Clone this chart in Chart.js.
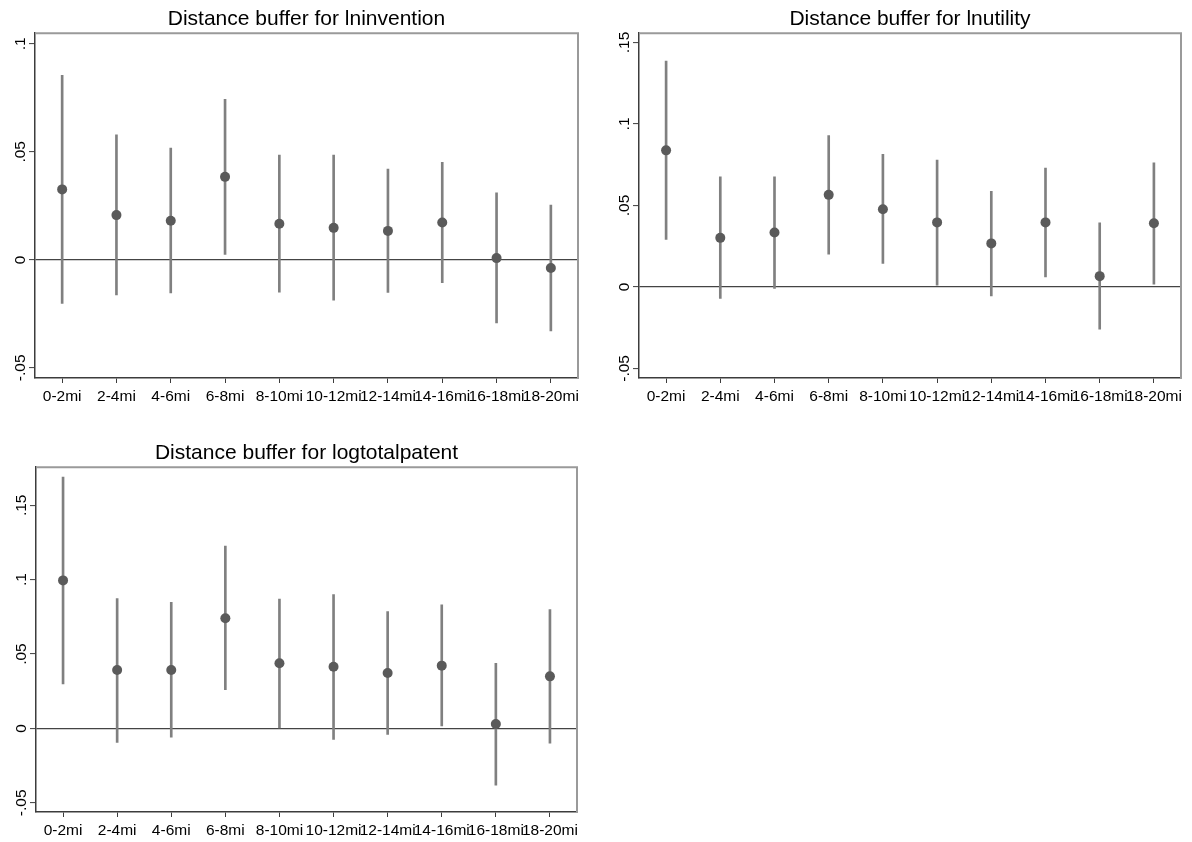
<!DOCTYPE html>
<html>
<head>
<meta charset="utf-8">
<script src="https://cdn.jsdelivr.net/npm/chart.js@4.4.1/dist/chart.umd.min.js"></script>
<style>
  html, body { margin: 0; padding: 0; background: #ffffff; }
  body { width: 1192px; height: 842px; position: relative; overflow: hidden; }
  .panel { position: absolute; }
</style>
</head>
<body>
<div class="panel" style="left:0px;top:0px;width:590px;height:410px;"><canvas id="c1" width="590" height="410"></canvas></div>
<div class="panel" style="left:604px;top:0px;width:588px;height:410px;"><canvas id="c2" width="588" height="410"></canvas></div>
<div class="panel" style="left:0px;top:434px;width:590px;height:408px;"><canvas id="c3" width="590" height="408"></canvas></div>
<script>
// Distance bands
const categories = ['0-2mi', '2-4mi', '4-6mi', '6-8mi', '8-10mi', '10-12mi', '12-14mi', '14-16mi', '16-18mi', '18-20mi'];

// lninvention: point estimates and confidence bounds
const lninventionEst = [0.0326, 0.0207, 0.0181, 0.0384, 0.0167, 0.0148, 0.0134, 0.0173, 0.0008, -0.0038];
const lninventionLo  = [-0.0202, -0.0163, -0.0153, 0.0025, -0.0150, -0.0187, -0.0151, -0.0106, -0.0292, -0.0329];
const lninventionHi  = [0.0854, 0.0579, 0.0517, 0.0743, 0.0485, 0.0485, 0.0420, 0.0451, 0.0310, 0.0253];

// lnutility
const lnutilityEst = [0.0838, 0.0301, 0.0334, 0.0565, 0.0477, 0.0396, 0.0267, 0.0396, 0.0066, 0.0391];
const lnutilityLo  = [0.0291, -0.0071, -0.0010, 0.0201, 0.0144, 0.0010, -0.0055, 0.0061, -0.0260, 0.0017];
const lnutilityHi  = [0.1386, 0.0676, 0.0676, 0.0928, 0.0813, 0.0778, 0.0586, 0.0729, 0.0393, 0.0762];

// logtotalpatent
const logtotalpatentEst = [0.0995, 0.0393, 0.0393, 0.0741, 0.0438, 0.0415, 0.0373, 0.0422, 0.0029, 0.0350];
const logtotalpatentLo  = [0.0299, -0.0094, -0.0059, 0.0260, 0.0000, -0.0074, -0.0040, 0.0016, -0.0382, -0.0099];
const logtotalpatentHi  = [0.1689, 0.0873, 0.0847, 0.1226, 0.0869, 0.0900, 0.0786, 0.0831, 0.0438, 0.0799];

// y-axis ticks and their labels
const yTicksSmall = [-0.05, 0, 0.05, 0.1];
const yLabelsSmall = ['-.05', '0', '.05', '.1'];
const yTicksLarge = [-0.05, 0, 0.05, 0.1, 0.15];
const yLabelsLarge = ['-.05', '0', '.05', '.1', '.15'];

// y-axis ranges
const lninventionRange = [-0.0547, 0.1049];
const lnutilityRange = [-0.0559, 0.1557];
const logtotalpatentRange = [-0.0562, 0.1756];

const FONT = "'Liberation Sans', Arial, Helvetica, sans-serif";
const AXIS_DARK = '#3c3c3c';

// top and right edges of the plot box
const framePlugin = {
  id: 'frame',
  afterDraw(chart) {
    const {ctx, chartArea: a} = chart;
    ctx.save();
    ctx.strokeStyle = '#9a9a9a';
    ctx.lineWidth = 2;
    ctx.beginPath();
    ctx.moveTo(a.left, a.top);
    ctx.lineTo(a.right, a.top);
    ctx.lineTo(a.right, a.bottom);
    ctx.stroke();
    ctx.restore();
  }
};

function makePanel(id, title, est, lo, hi, range, yTicks, yLabels, opts) {
  const intervals = lo.map((v, i) => [v, hi[i]]);
  new Chart(document.getElementById(id), {
    type: 'bar',
    data: {
      labels: categories,
      datasets: [
        {
          type: 'line',
          data: est,
          showLine: false,
          pointRadius: 5,
          pointHoverRadius: 5,
          pointBackgroundColor: '#5a5a5a',
          pointBorderWidth: 0,
          order: 0
        },
        {
          type: 'bar',
          data: intervals,
          backgroundColor: '#808080',
          borderWidth: 0,
          barThickness: 2,
          order: 1
        }
      ]
    },
    options: {
      responsive: false,
      animation: false,
      events: [],
      layout: { padding: { left: 0, right: opts.padRight, top: 0, bottom: 0 } },
      plugins: {
        legend: { display: false },
        tooltip: { enabled: false },
        title: {
          display: true,
          text: title,
          fullSize: false,
          color: '#000000',
          font: { family: FONT, size: 21, weight: 'normal', lineHeight: 1.2 },
          padding: { top: 7, bottom: 1 }
        }
      },
      scales: {
        x: {
          type: 'category',
          offset: true,
          grid: {
            offset: false,
            drawOnChartArea: false,
            drawTicks: true,
            tickLength: 5,
            tickColor: AXIS_DARK,
            tickWidth: 1
          },
          border: { display: true, color: AXIS_DARK, width: 1.5 },
          ticks: {
            autoSkip: false,
            maxRotation: 0,
            minRotation: 0,
            padding: 4,
            color: '#000000',
            font: { family: FONT, size: 15.5 }
          },
          afterFit(scale) { scale.height = opts.xHeight; }
        },
        y: {
          type: 'linear',
          min: range[0],
          max: range[1],
          afterBuildTicks(scale) { scale.ticks = yTicks.map(v => ({ value: v })); },
          grid: {
            drawOnChartArea: true,
            drawTicks: true,
            tickLength: 6,
            color: ctx => (ctx.tick && ctx.tick.value === 0 ? '#444444' : 'rgba(0,0,0,0)'),
            lineWidth: 1.2,
            tickColor: AXIS_DARK,
            tickWidth: 1
          },
          border: { display: true, color: AXIS_DARK, width: 1.5 },
          ticks: {
            minRotation: 90,
            maxRotation: 90,
            crossAlign: 'center',
            padding: -5.5,
            color: '#000000',
            font: { family: FONT, size: 15.5 },
            callback: (value, index) => yLabels[index]
          },
          afterFit(scale) { scale.width = opts.yWidth; }
        }
      }
    },
    plugins: [framePlugin]
  });
}

makePanel('c1', 'Distance buffer for lninvention', lninventionEst, lninventionLo, lninventionHi,
  lninventionRange, yTicksSmall, yLabelsSmall, { padRight: 12, xHeight: 32, yWidth: 35 });
makePanel('c2', 'Distance buffer for lnutility', lnutilityEst, lnutilityLo, lnutilityHi,
  lnutilityRange, yTicksLarge, yLabelsLarge, { padRight: 11, xHeight: 32, yWidth: 35 });
makePanel('c3', 'Distance buffer for logtotalpatent', logtotalpatentEst, logtotalpatentLo, logtotalpatentHi,
  logtotalpatentRange, yTicksLarge, yLabelsLarge, { padRight: 13, xHeight: 30, yWidth: 36 });
</script>
</body>
</html>
